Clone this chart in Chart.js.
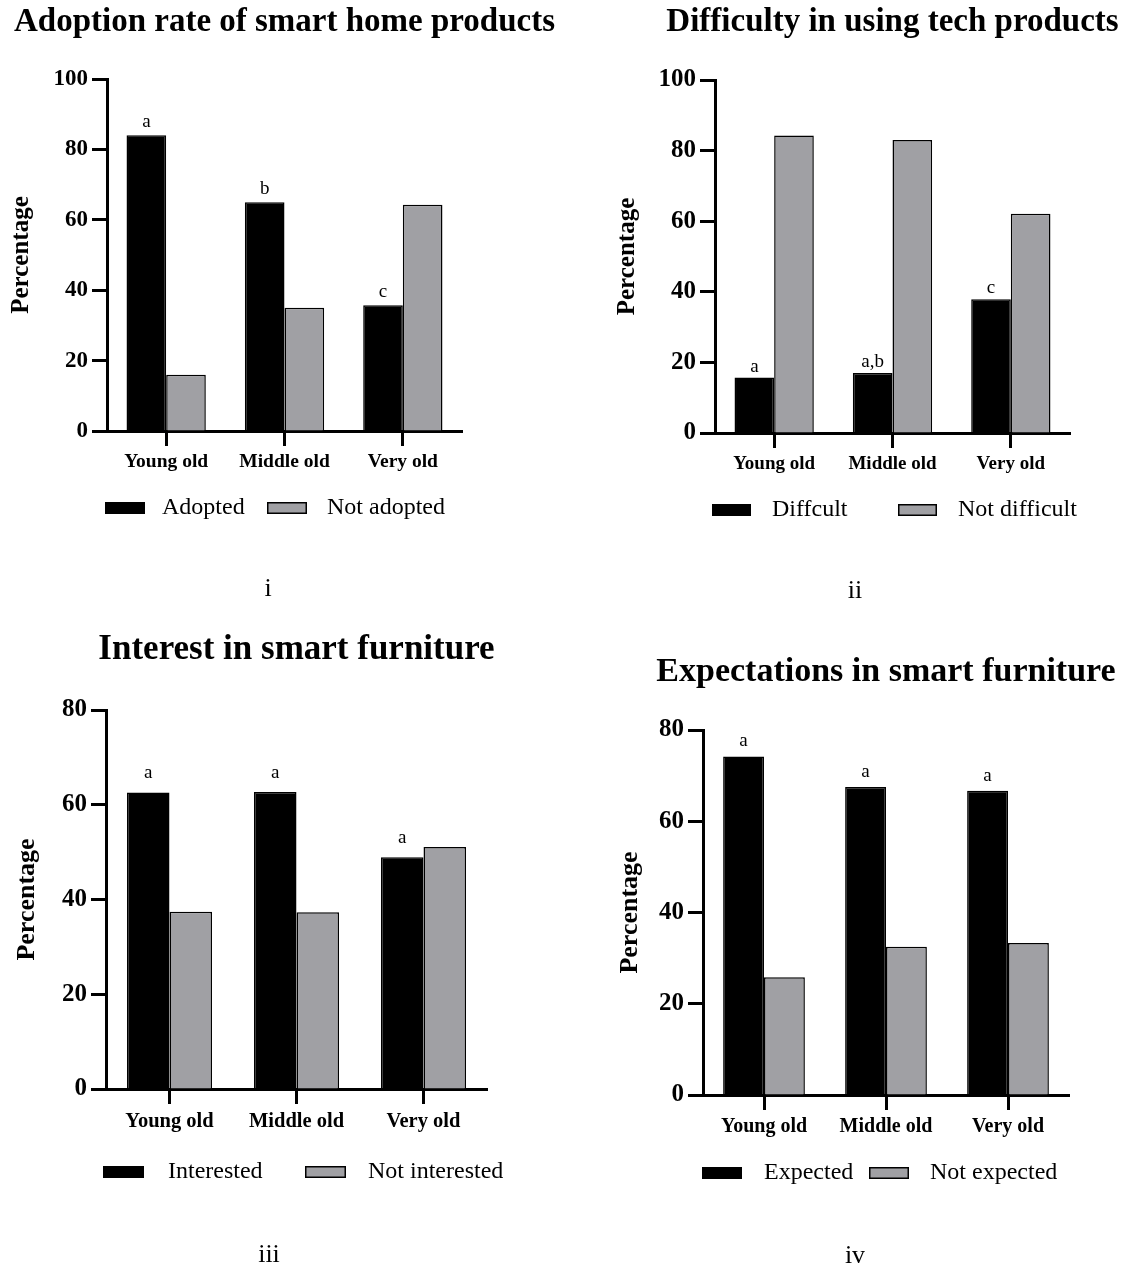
<!DOCTYPE html>
<html>
<head>
<meta charset="utf-8">
<script src="https://cdn.jsdelivr.net/npm/chart.js@4.4.1/dist/chart.umd.min.js"></script>
<style>
  html, body { margin: 0; padding: 0; background: #fff; }
  body { width: 1127px; height: 1266px; position: relative; overflow: hidden;
         font-family: 'Liberation Serif', 'Times New Roman', serif; }
  canvas { position: absolute; }
  .cap { position: absolute; font-size: 26px; line-height: 1; color: #000;
         transform: translate(-50%, -50%); white-space: nowrap; }
</style>
</head>
<body>
<canvas id="adoption" width="563" height="620" style="left:0;top:0"></canvas>
<canvas id="difficulty" width="564" height="620" style="left:563px;top:0"></canvas>
<canvas id="interest" width="563" height="646" style="left:0;top:620px"></canvas>
<canvas id="expectation" width="564" height="646" style="left:563px;top:620px"></canvas>
<div class="cap" style="left:268px;top:588px">i</div>
<div class="cap" style="left:855px;top:590px">ii</div>
<div class="cap" style="left:269px;top:1254px">iii</div>
<div class="cap" style="left:855px;top:1255px">iv</div>
<script>
// Age groups shared by all four panels
const groups = ['Young old', 'Middle old', 'Very old'];

// Panel i: adoption of smart home products (%)
const adopted = [84, 65, 35.7];
const notAdopted = [16, 35, 64.3];
const adoptionLetters = ['a', 'b', 'c'];

// Panel ii: difficulty in using tech products (%)
const difficult = [15.7, 17, 37.9];
const notDifficult = [84.3, 83, 62.1];
const difficultyLetters = ['a', 'a,b', 'c'];

// Panel iii: interest in smart furniture (%)
const interested = [62.6, 62.7, 48.9];
const notInterested = [37.4, 37.3, 51.1];
const interestLetters = ['a', 'a', 'a'];

// Panel iv: expectations in smart furniture (%)
const expected = [74.2, 67.5, 66.7];
const notExpected = [25.8, 32.5, 33.3];
const expectationLetters = ['a', 'a', 'a'];

// Y axis ranges and tick step
const yMaxTop = 100;
const yMaxBottom = 80;
const yStep = 20;

const SERIF = "'Liberation Serif', 'Times New Roman', serif";
const BLACK = '#000000';
const GRAY = 'rgb(160,160,164)';

// Panel heading, centred over the plot area and allowed to run wider than it
const panelTitle = {
  id: 'panelTitle',
  afterDraw(chart, args, opts) {
    const ctx = chart.ctx;
    const area = chart.chartArea;
    ctx.save();
    ctx.font = `bold ${opts.size}px ${SERIF}`;
    ctx.fillStyle = '#000';
    ctx.textAlign = 'center';
    ctx.textBaseline = 'middle';
    ctx.fillText(opts.text, (area.left + area.right) / 2, opts.y);
    ctx.restore();
  }
};

// Significance letters above the first bar of each group
const letterPlugin = {
  id: 'groupLetters',
  afterDatasetsDraw(chart, args, opts) {
    const meta = chart.getDatasetMeta(0);
    const ctx = chart.ctx;
    ctx.save();
    ctx.font = `${opts.size}px ${SERIF}`;
    ctx.fillStyle = '#000';
    ctx.textAlign = 'center';
    ctx.textBaseline = 'alphabetic';
    meta.data.forEach((bar, i) => {
      ctx.fillText(opts.letters[i], bar.x, bar.y - opts.gap);
    });
    ctx.restore();
  }
};

// Legend row with wide flat swatches under the axis
const swatchLegend = {
  id: 'swatchLegend',
  afterDraw(chart, args, opts) {
    const ctx = chart.ctx;
    ctx.save();
    ctx.font = `${opts.size}px ${SERIF}`;
    ctx.textAlign = 'left';
    ctx.textBaseline = 'middle';
    chart.data.datasets.forEach((ds, i) => {
      const bx = opts.boxX[i];
      const by = opts.y - opts.boxH / 2;
      ctx.fillStyle = ds.backgroundColor;
      ctx.fillRect(bx, by, opts.boxW, opts.boxH);
      ctx.strokeStyle = '#000';
      ctx.lineWidth = 1.5;
      ctx.strokeRect(bx + 0.75, by + 0.75, opts.boxW - 1.5, opts.boxH - 1.5);
      ctx.fillStyle = '#000';
      ctx.fillText(ds.label, opts.textX[i], opts.y);
    });
    ctx.restore();
  }
};

function makePanel(id, c) {
  return new Chart(document.getElementById(id), {
    type: 'bar',
    data: {
      labels: groups,
      datasets: [
        { label: c.names[0], data: c.series[0], backgroundColor: BLACK, borderColor: '#000', borderWidth: 1.5 },
        { label: c.names[1], data: c.series[1], backgroundColor: GRAY, borderColor: '#000', borderWidth: 1.5 }
      ]
    },
    options: {
      responsive: false,
      animation: false,
      devicePixelRatio: 1,
      layout: { padding: { left: 0, top: c.padTop, right: c.padRight, bottom: c.padBottom } },
      datasets: { bar: { categoryPercentage: 0.67, barPercentage: 1 } },
      plugins: {
        legend: { display: false },
        tooltip: { enabled: false },
        title: { display: false },
        panelTitle: { text: c.title, size: c.titleSize, y: c.titleY },
        groupLetters: { letters: c.letters, size: 19, gap: c.letterGap },
        swatchLegend: c.legend
      },
      scales: {
        x: {
          afterFit: s => { s.height = 50; },
          grid: { display: true, drawOnChartArea: false, offset: false,
                  tickLength: 15, tickWidth: 3, tickColor: '#000' },
          border: { display: true, width: 3, color: '#000' },
          ticks: { color: '#000', maxRotation: 0, autoSkip: false, padding: c.catPad,
                   font: { family: SERIF, size: c.catSize, weight: 'bold' } }
        },
        y: {
          min: 0, max: c.yMax,
          afterFit: s => { s.width = c.yWidth; },
          grid: { drawOnChartArea: false, tickLength: 15, tickWidth: 3, tickColor: '#000' },
          border: { display: true, width: 3, color: '#000' },
          ticks: { stepSize: yStep, color: '#000', padding: 4,
                   font: { family: SERIF, size: c.tickSize, weight: 'bold' } },
          title: {
            display: true, text: 'Percentage', color: '#000',
            font: { family: SERIF, size: c.yTitleSize, weight: 'bold', lineHeight: 1.2 },
            padding: { top: c.yTitlePad, bottom: 0 }
          }
        }
      }
    },
    plugins: [letterPlugin, swatchLegend, panelTitle]
  });
}

makePanel('adoption', {
  title: 'Adoption rate of smart home products', titleSize: 33, titleY: 22, padTop: 79,
  names: ['Adopted', 'Not adopted'], series: [adopted, notAdopted], letters: adoptionLetters,
  letterGap: 8, yMax: yMaxTop, yWidth: 107, padRight: 101, padBottom: 139,
  tickSize: 23, catSize: 19.5, catPad: 4.3, yTitleSize: 25, yTitlePad: 7,
  legend: { y: 508, boxX: [105, 267], textX: [162, 327], boxW: 40, boxH: 12, size: 24 }
});

makePanel('difficulty', {
  title: 'Difficulty in using tech products', titleSize: 33, titleY: 22.5, padTop: 80,
  names: ['Diffcult', 'Not difficult'], series: [difficult, notDifficult], letters: difficultyLetters,
  letterGap: 6, yMax: yMaxTop, yWidth: 152, padRight: 57, padBottom: 137,
  tickSize: 25, catSize: 19, catPad: 4.6, yTitleSize: 25, yTitlePad: 50,
  legend: { y: 510, boxX: [149, 335], textX: [209, 395], boxW: 39, boxH: 12, size: 24 }
});

makePanel('interest', {
  title: 'Interest in smart furniture', titleSize: 35, titleY: 30, padTop: 90,
  names: ['Interested', 'Not interested'], series: [interested, notInterested], letters: interestLetters,
  letterGap: 14, yMax: yMaxBottom, yWidth: 106, padRight: 76, padBottom: 127,
  tickSize: 25, catSize: 20.5, catPad: 5.7, yTitleSize: 26, yTitlePad: 11.9,
  legend: { y: 552, boxX: [103, 305], textX: [168, 368], boxW: 41, boxH: 12, size: 24 }
});

makePanel('expectation', {
  title: 'Expectations in smart furniture', titleSize: 34, titleY: 52, padTop: 110,
  names: ['Expected', 'Not expected'], series: [expected, notExpected], letters: expectationLetters,
  letterGap: 10, yMax: yMaxBottom, yWidth: 140, padRight: 58, padBottom: 121,
  tickSize: 25, catSize: 20, catPad: 5, yTitleSize: 26, yTitlePad: 51.4,
  legend: { y: 553, boxX: [139, 306], textX: [201, 367], boxW: 40, boxH: 12, size: 24 }
});
</script>
</body>
</html>
